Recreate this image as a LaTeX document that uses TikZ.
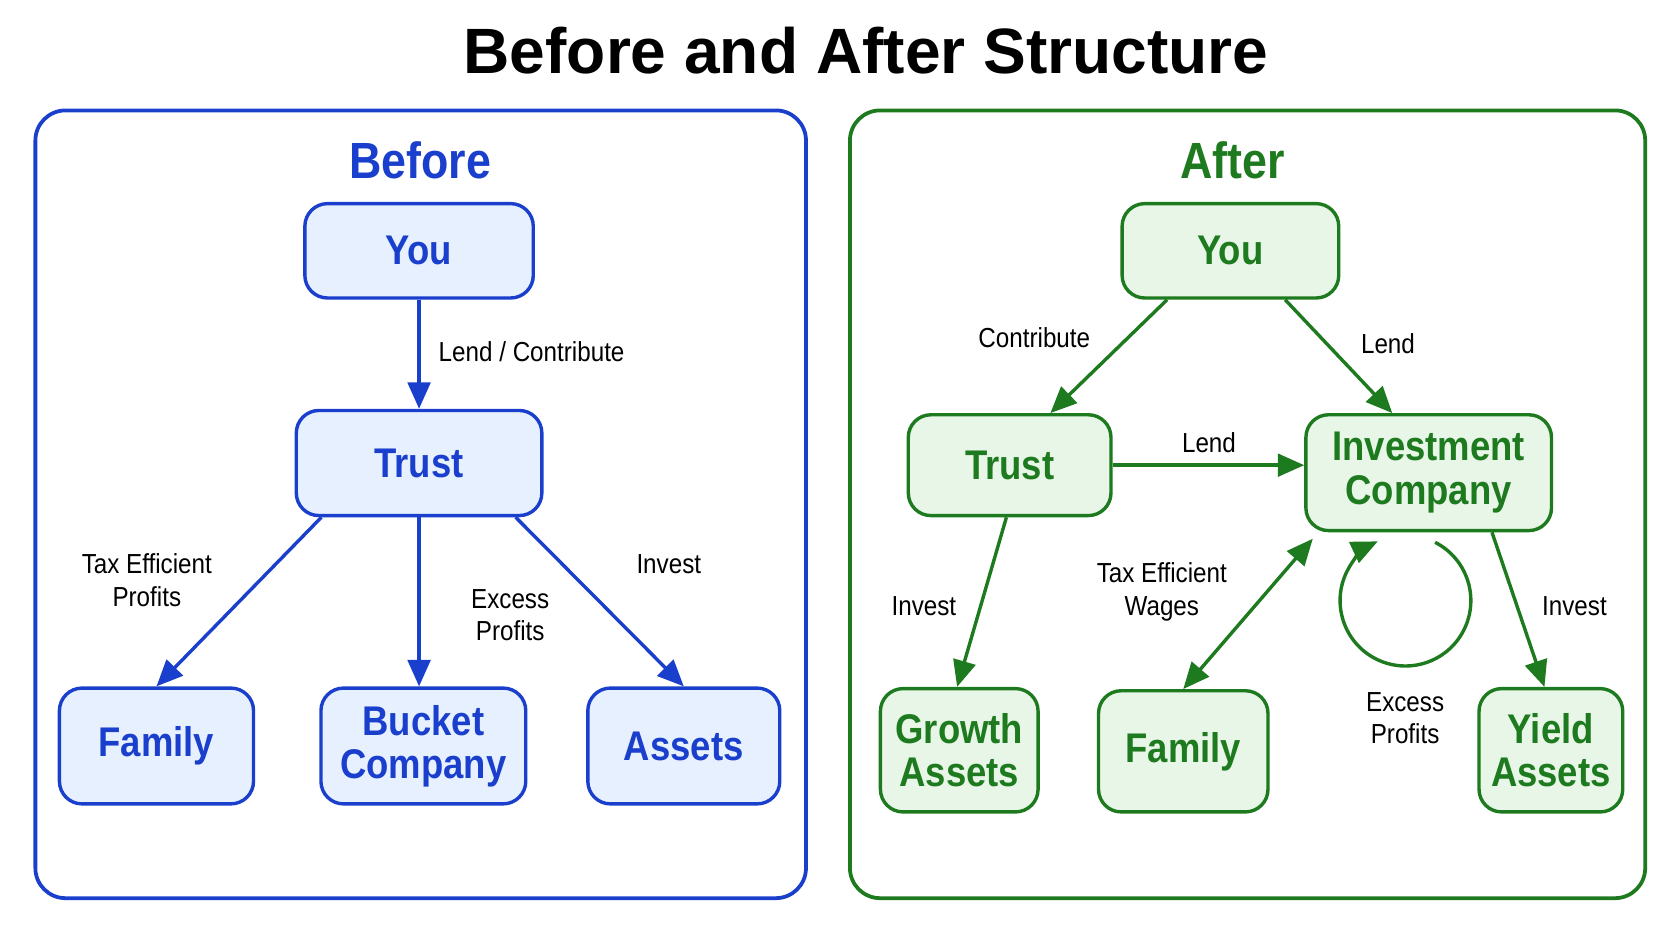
\documentclass[tikz,border=0pt]{standalone}
\usepackage{fontspec}
\setmainfont{Liberation Sans}
\newfontfamily\narrowf{Liberation Sans}[FakeStretch=0.88]
\usetikzlibrary{arrows.meta}
\definecolor{bl}{HTML}{1A3FCC}
\definecolor{blf}{HTML}{E6F0FF}
\definecolor{gr}{HTML}{1E7A1E}
\definecolor{grf}{HTML}{E8F6E8}
\begin{document}
\begin{tikzpicture}[x=0.01cm,y=-0.01cm,
  bbox/.style={draw=#1,line width=1pt,fill=none,rounded corners=8pt},
  bn/.style={draw=bl,fill=blf,line width=0.9pt,rounded corners=6pt,text=bl,font=\narrowf\bfseries\fontsize{11}{11.5}\selectfont,align=center,inner sep=0pt},
  gn/.style={draw=gr,fill=grf,line width=0.9pt,rounded corners=6pt,text=gr,font=\narrowf\bfseries\fontsize{11}{11.5}\selectfont,align=center,inner sep=0pt},
  lab/.style={font=\narrowf\fontsize{7.3}{8.7}\selectfont,align=center,text=black},
  ba/.style={draw=bl,line width=0.9pt,-{Triangle[length=7pt,width=6pt]}},
  ga/.style={draw=gr,line width=0.9pt,-{Triangle[length=7pt,width=6pt]}},
  hd/.style={font=\narrowf\bfseries\fontsize{13.5}{14}\selectfont}]
\useasboundingbox (0,0) rectangle (1560,878);
\fill[white] (0,0) rectangle (1560,878);
\node[font=\bfseries\fontsize{17}{19}\selectfont] (title) at (808,47) {Before and After Structure};
\draw[bbox=bl] (33,103) rectangle (752,838);
\draw[bbox=gr] (793,103) rectangle (1535,838);
\node[hd,text=bl] (hb) at (392,150) {Before};
\node[hd,text=gr] (ha) at (1150,150) {After};
% before
\node[bn,minimum width=2.13cm,minimum height=0.88cm] (byou) at (391,234) {You};
\node[bn,minimum width=2.29cm,minimum height=0.98cm] (btrust) at (391,432) {Trust};
\node[bn,minimum width=1.81cm,minimum height=1.08cm] (bfam) at (146,696) {Family};
\node[bn,minimum width=1.91cm,minimum height=1.08cm] (bbuck) at (395,696) {Bucket\\Company};
\node[bn,minimum width=1.79cm,minimum height=1.08cm] (bass) at (638,696) {Assets};
\draw[ba] (byou.south) -- (btrust.north);
\draw[ba] ([xshift=0.25cm]btrust.south west) -- (bfam.north);
\draw[ba] (btrust.south) -- (bbuck.north -| btrust.south);
\draw[ba] ([xshift=-0.26cm]btrust.south east) -- (bass.north);
\node[lab] (l1) at (496,328) {Lend / Contribute};
\node[lab] (l2) at (137,541) {Tax Efficient\\Profits};
\node[lab] (l3) at (476,574) {Excess\\Profits};
\node[lab] (l4) at (624,526) {Invest};
% after
\node[gn,minimum width=2.02cm,minimum height=0.88cm] (ayou) at (1148,234) {You};
\node[gn,minimum width=1.89cm,minimum height=0.94cm] (atrust) at (942,434) {Trust};
\node[gn,minimum width=2.29cm,minimum height=1.08cm] (ainv) at (1333,441) {Investment\\Company};
\node[gn,minimum width=1.47cm,minimum height=1.15cm] (agro) at (895,700) {Growth\\Assets};
\node[gn,minimum width=1.58cm,minimum height=1.13cm] (afam) at (1104,701) {Family};
\node[gn,minimum width=1.34cm,minimum height=1.15cm] (ayld) at (1447,700) {Yield\\Assets};
\draw[ga] ([xshift=-0.59cm]ayou.south) -- ([xshift=0.38cm]atrust.north);
\draw[ga] ([xshift=0.51cm]ayou.south) -- ([xshift=-0.34cm]ainv.north);
\draw[ga] (atrust.east) -- (ainv.west |- atrust.east);
\draw[ga] ([xshift=-0.03cm]atrust.south) -- ([xshift=-0.02cm]agro.north);
\draw[draw=gr,line width=0.9pt,{Triangle[length=7pt,width=6pt]}-{Triangle[length=7pt,width=6pt]}] (afam.north) -- ([xshift=0.08cm,yshift=-0.06cm]ainv.south west);
\draw[ga] ([xshift=0.59cm]ainv.south) -- ([xshift=-0.06cm]ayld.north);
\coordinate (ls) at (1339,506);
\draw[ga] (ls) arc[start angle=-63,end angle=245,radius=61];
\node[lab] (m1) at (965,315) {Contribute};
\node[lab] (m2) at (1295,321) {Lend};
\node[lab] (m3) at (1128,413) {Lend};
\node[lab] (m4) at (862,566) {Invest};
\node[lab] (m5) at (1084,552) {Tax Efficient\\Wages};
\node[lab] (m6) at (1311,670) {Excess\\Profits};
\node[lab] (m7) at (1469,566) {Invest};
\end{tikzpicture}
\end{document}
